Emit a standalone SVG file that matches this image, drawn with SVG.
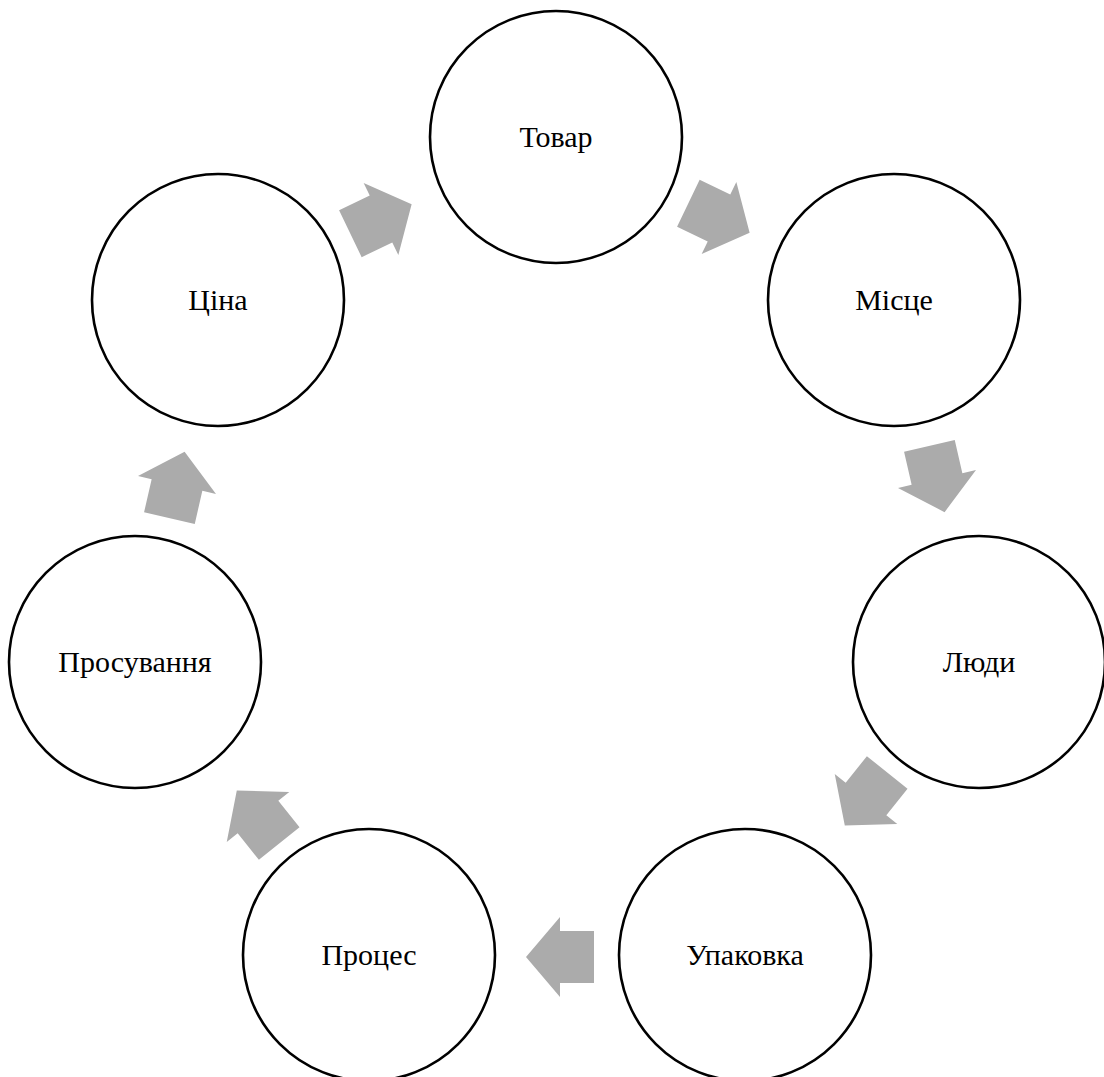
<svg xmlns="http://www.w3.org/2000/svg" width="1104" height="1077" viewBox="0 0 1104 1077">
<style>
.node circle{fill:#fff;stroke:#000;stroke-width:2.6}
.node text{font-family:"Liberation Serif","Times New Roman",serif;font-size:30px;fill:#000;text-anchor:middle}
.arr{fill:#ABABAB}
</style>
<defs>
<path id="arrow" d="M-34,-26 H0 V-40 L34,0 L0,40 V26 H-34 Z"/>
</defs>
<rect width="1104" height="1077" fill="#fff"/>
<g id="connectors">
<use href="#arrow" class="arr" transform="translate(381,219) rotate(-25.7)"/>
<use href="#arrow" class="arr" transform="translate(719,218) rotate(25.7)"/>
<use href="#arrow" class="arr" transform="translate(937,479) rotate(77.1)"/>
<use href="#arrow" class="arr" transform="translate(866,799) rotate(128.6)"/>
<use href="#arrow" class="arr" transform="translate(560,957) rotate(180)"/>
<use href="#arrow" class="arr" transform="translate(258,817) rotate(231.4)"/>
<use href="#arrow" class="arr" transform="translate(177,485) rotate(282.9)"/>
</g>
<g id="node-tovar" class="node"><circle cx="556" cy="137" r="126"/><text x="556" y="147">Товар</text></g>
<g id="node-mistse" class="node"><circle cx="894" cy="300" r="126"/><text x="894" y="310">Місце</text></g>
<g id="node-liudy" class="node"><circle cx="979" cy="662" r="126"/><text x="979" y="672">Люди</text></g>
<g id="node-upakovka" class="node"><circle cx="745" cy="955" r="126"/><text x="745" y="965">Упаковка</text></g>
<g id="node-protses" class="node"><circle cx="369" cy="955" r="126"/><text x="369" y="965">Процес</text></g>
<g id="node-prosuvannia" class="node"><circle cx="135" cy="662" r="126"/><text x="135" y="672">Просування</text></g>
<g id="node-tsina" class="node"><circle cx="218" cy="300" r="126"/><text x="218" y="310">Ціна</text></g>
</svg>
